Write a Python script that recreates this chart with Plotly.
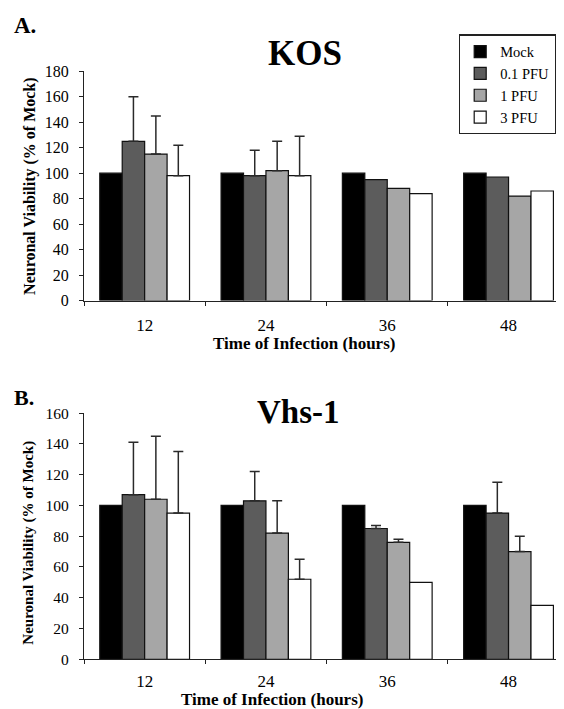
import plotly.graph_objects as go

hours = ["12", "24", "36", "48"]
series = ["Mock", "0.1 PFU", "1 PFU", "3 PFU"]
colors = ["#000000", "#5c5c5c", "#a6a6a6", "#ffffff"]

# Panel A: KOS (mean, upward error)
kos_vals = [
    [100, 100, 100, 100],
    [125, 98, 95, 97],
    [115, 102, 88, 82],
    [98, 98, 84, 86],
]
kos_err = [
    [],
    [35, 20],
    [30, 23],
    [24, 31],
]

# Panel B: Vhs-1
vhs_vals = [
    [100, 100, 100, 100],
    [107, 103, 85, 95],
    [104, 82, 76, 70],
    [95, 52, 50, 35],
]
vhs_err = [
    [],
    [34, 19, 2, 20],
    [41, 21, 2, 10],
    [40, 13],
]

FONT = "Liberation Serif, Times New Roman, serif"
W, H = 548, 709
OX, OY, SY = 8, 15.5, 0.978


def fx(p):
    return (p - OX) / W


def fy(p):
    return 1 - ((p - OY) / SY) / H


def err(e):
    if not e:
        return None
    return dict(type="data", symmetric=False, array=e, color="#2a2a2a",
                thickness=1.5, width=5)


fig = go.Figure()
for i, name in enumerate(series):
    fig.add_trace(go.Bar(
        x=hours, y=kos_vals[i], name=name, xaxis="x", yaxis="y",
        marker=dict(color=colors[i], line=dict(color="#111111", width=1.2)),
        error_y=err(kos_err[i]), showlegend=True,
    ))
for i, name in enumerate(series):
    fig.add_trace(go.Bar(
        x=hours, y=vhs_vals[i], name=name, xaxis="x2", yaxis="y2",
        marker=dict(color=colors[i], line=dict(color="#111111", width=1.2)),
        error_y=err(vhs_err[i]), showlegend=False,
    ))

cat_px = 121.3
x_left = 84
x_range = [-0.5, -0.5 + (OX + W - x_left) / cat_px]


def xaxis(anchor, size, standoff):
    return dict(domain=[fx(x_left), 1], anchor=anchor, type="category",
                range=x_range, tickson="boundaries",
                showline=True, linecolor="#222222", linewidth=1.2,
                ticks="outside", ticklen=4, tickcolor="#222222",
                showgrid=False, zeroline=False, ticklabelstandoff=standoff,
                tickfont=dict(family=FONT, size=size, color="black"))


def yaxis(anchor, dom, rng, size):
    return dict(domain=dom, anchor=anchor, range=rng, dtick=20,
                showline=True, linecolor="#222222", linewidth=1.2,
                ticks="outside", ticklen=4, tickcolor="#222222",
                showgrid=False, zeroline=False, ticklabelstandoff=7,
                tickfont=dict(family=FONT, size=size, color="black"))


fig.update_layout(
    width=W, height=H,
    margin=dict(l=0, r=0, t=0, b=0),
    paper_bgcolor="white", plot_bgcolor="white",
    barmode="group", bargap=0.26, bargroupgap=0,
    font=dict(family=FONT, color="black"),
    xaxis=xaxis("y", 17, 9),
    yaxis=yaxis("x", [fy(300), fy(70)], [0, 180], 16),
    xaxis2=xaxis("y2", 17, 6),
    yaxis2=yaxis("x2", [fy(660), fy(413)], [0, 160], 15.5),
    legend=dict(x=1, y=fy(33), xanchor="right", yanchor="top",
                bordercolor="#222222", borderwidth=1.2, bgcolor="white",
                font=dict(family=FONT, size=14.5, color="black"),
                itemwidth=30, tracegroupgap=0),
    showlegend=True,
)

labels = [
    ("<b>A.</b>", 12, 24, "left", 23, 0),
    ("<b>KOS</b>", 305, 52, "center", 35, 0),
    ("<b>Time of Infection (hours)</b>", 304, 343, "center", 17, 0),
    ("<b>B.</b>", 12, 397, "left", 22, 0),
    ("<b>Vhs-1</b>", 298, 412, "center", 33, 0),
    ("<b>Time of Infection (hours)</b>", 272, 700, "center", 17, 0),
    ("<b>Neuronal Viability (% of Mock)</b>", 30, 186, "center", 16, -90),
    ("<b>Neuronal Viability (% of Mock)</b>", 29, 543, "center", 15, -90),
]
for text, x, y, xa, size, ang in labels:
    fig.add_annotation(text=text, x=fx(x), y=fy(y), xref="paper", yref="paper",
                       xanchor=xa, yanchor="middle", showarrow=False, textangle=ang,
                       font=dict(family=FONT, size=size, color="black"))

fig.write_html("out.html")
